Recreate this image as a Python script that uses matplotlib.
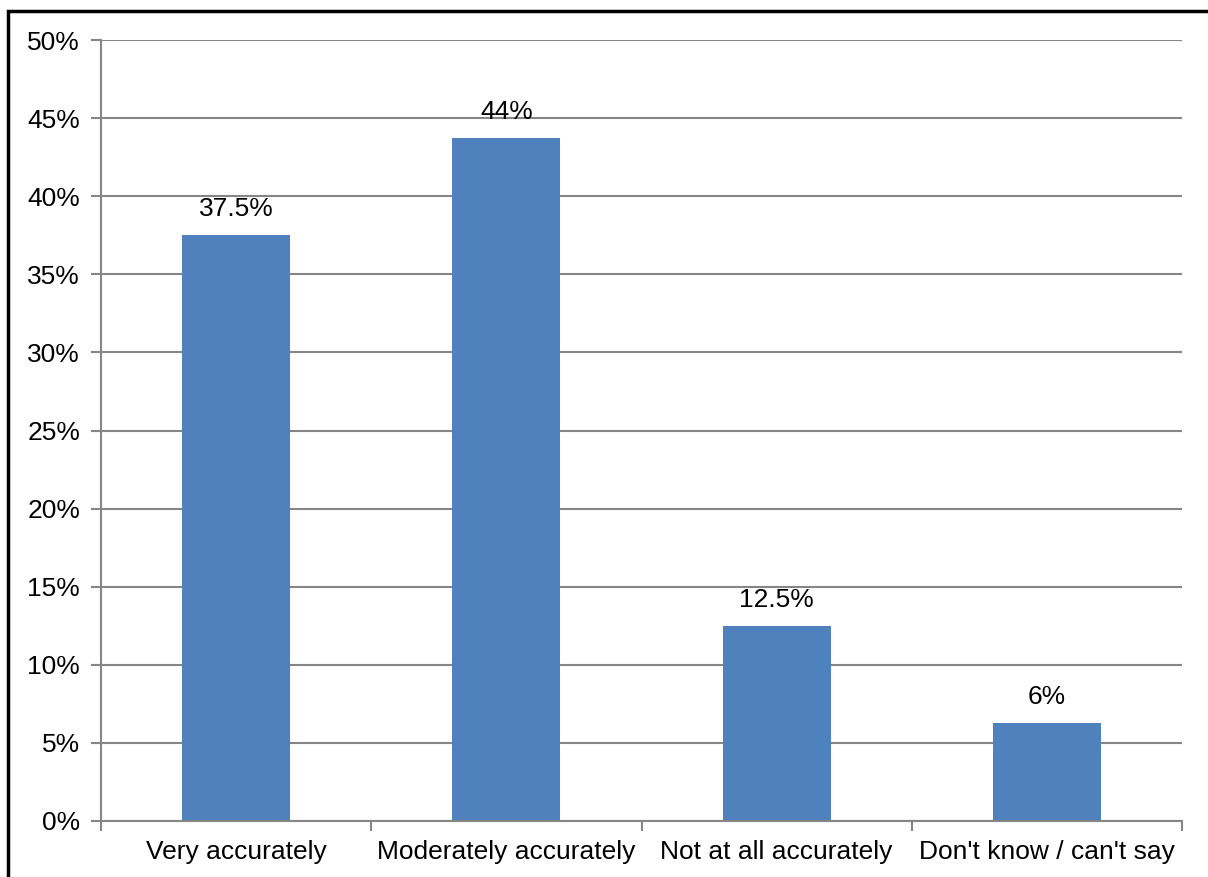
import matplotlib.pyplot as plt
from matplotlib.patches import Rectangle
from matplotlib.ticker import MultipleLocator, FuncFormatter

# Survey responses (share of respondents)
categories = ['Very accurately', 'Moderately accurately',
              'Not at all accurately', "Don't know / can't say"]
values = [37.5, 43.75, 12.5, 6.25]
value_labels = ['37.5%', '44%', '12.5%', '6%']

plt.rcParams['font.family'] = ['Liberation Sans', 'DejaVu Sans']
FS = 19

fig = plt.figure(figsize=(12.08, 8.77), dpi=100)
ax = fig.add_axes([101 / 1208, 56 / 877, 1081 / 1208, 781 / 877])

grid_c = '#868686'
x = range(len(categories))
ax.bar(x, values, width=0.4, color='#4F81BD', zorder=3)
for xi, v, lab in zip(x, values, value_labels):
    ax.annotate(lab, (xi, v), xytext=(0, 10), textcoords='offset points',
                ha='center', va='bottom', fontsize=FS)

ax.set_xlim(-0.5, len(categories) - 0.5)
ax.set_ylim(0, 50)
ax.yaxis.set_major_locator(MultipleLocator(5))
ax.yaxis.set_major_formatter(FuncFormatter(lambda v, _: f'{v:.0f}%'))
ax.grid(axis='y', color=grid_c, linewidth=1.5, zorder=0)

ax.set_xticks(list(x))
ax.set_xticklabels(categories, fontsize=FS)
ax.tick_params(axis='x', length=0, pad=14)
# category boundary ticks
ax.set_xticks([i - 0.5 for i in range(len(categories) + 1)], minor=True)
ax.tick_params(axis='x', which='minor', length=7, width=1.5, color=grid_c)
ax.tick_params(axis='y', length=7, width=1.5, color=grid_c, labelsize=FS, pad=8)

for s in ['top', 'right']:
    ax.spines[s].set_visible(False)
for s in ['left', 'bottom']:
    ax.spines[s].set_color(grid_c)
    ax.spines[s].set_linewidth(1.5)
    ax.spines[s].set_zorder(4)

# outer frame
fig.patches.append(Rectangle((8 / 1208, -0.1), 1.2, 1 - 11 / 877 + 0.1,
                             transform=fig.transFigure, fill=False,
                             edgecolor='black', linewidth=2.5))

fig.savefig('out.png', dpi=100)
